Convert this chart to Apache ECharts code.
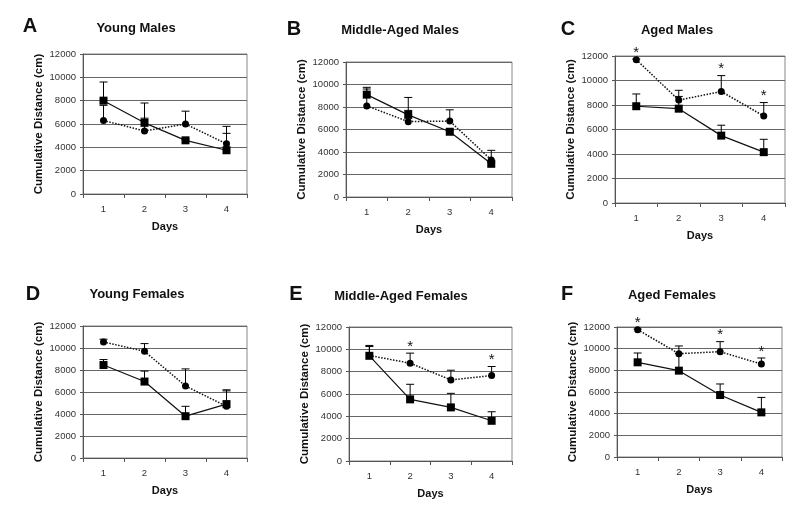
<!DOCTYPE html>
<html>
<head>
<meta charset="utf-8">
<title>Cumulative Distance by Day</title>
<script src="https://cdn.jsdelivr.net/npm/echarts@6/dist/echarts.min.js"></script>
<style>
  html, body { margin: 0; padding: 0; background: #fff; }
  #chart { width: 800px; height: 507px; }
</style>
</head>
<body>
<div id="chart"></div>
<script>
// data
var days = ['1', '2', '3', '4'];
var panelLetters = ['A', 'B', 'C', 'D', 'E', 'F'];
var panelTitles = ['Young Males', 'Middle-Aged Males', 'Aged Males',
                   'Young Females', 'Middle-Aged Females', 'Aged Females'];
var yTicks = [0, 2000, 4000, 6000, 8000, 10000, 12000];

// solid line, square markers
var squareMean = [
  [8000, 6100, 4600, 3750],
  [9100, 7300, 5800, 2950],
  [7900, 7700, 5500, 4150],
  [8450, 6950, 3800, 4900],
  [9420, 5520, 4800, 3600],
  [8740, 7970, 5720, 4120]
];
var squareErrTop = [
  [9600, 7800, 4700, 5200],
  [9750, 7700, 5900, 3100],
  [8900, 8700, 6350, 5200],
  [8950, 7900, 4700, 6100],
  [10250, 6870, 6060, 4410],
  [9600, 9550, 6740, 5500]
];
// dotted line, circle markers
var circleMean = [
  [6300, 5400, 6000, 4300],
  [8100, 6700, 6750, 3300],
  [11700, 8400, 9100, 7100],
  [10550, 9700, 6550, 4700],
  [9450, 8760, 7260, 7650],
  [11750, 9540, 9720, 8580]
];
var circleErrTop = [
  [7600, 6500, 7100, 5800],
  [9600, 8850, 7750, 4150],
  [11750, 9200, 10400, 8200],
  [10800, 10400, 8100, 6200],
  [10350, 9660, 8130, 8460],
  [11800, 10250, 10650, 9140]
];
// days (index) marked with * above the circle series
var starDays = [[], [], [0, 2, 3], [], [1, 3], [0, 2, 3]];

// plot boxes in px
var boxes = [
  {left: 83, top: 54, width: 164, height: 140},
  {left: 346, top: 62, width: 166, height: 135},
  {left: 615, top: 56, width: 170, height: 147},
  {left: 83, top: 326, width: 164, height: 132},
  {left: 349, top: 327, width: 163, height: 134},
  {left: 617, top: 327, width: 165, height: 130}
];
var titlePos = [[136, 28], [400, 30], [677, 30], [137, 294], [401, 296], [672, 295]];
var letterPos = [[30, 26], [294, 29], [568, 29], [33, 294], [296, 294], [567, 294]];

var FONT = 'Liberation Sans, Arial, sans-serif';

function errRender(params, api) {
  var x = api.value(0);
  var p0 = api.coord([x, api.value(1)]);
  var p1 = api.coord([x, api.value(2)]);
  var st = {stroke: '#000', lineWidth: 1};
  return {
    type: 'group',
    children: [
      {type: 'line', shape: {x1: p0[0], y1: p0[1], x2: p1[0], y2: p1[1]}, style: st},
      {type: 'line', shape: {x1: p1[0] - 4, y1: p1[1], x2: p1[0] + 4, y2: p1[1]}, style: st}
    ]
  };
}

function starRender(params, api) {
  var p = api.coord([api.value(0), api.value(1)]);
  return {
    type: 'text',
    x: p[0], y: p[1] + 1,
    style: {text: '*', fill: '#111', font: '15px ' + FONT, align: 'center', verticalAlign: 'bottom'}
  };
}

var grids = [], xAxes = [], yAxes = [], series = [], graphics = [];

boxes.forEach(function (b, i) {
  grids.push({left: b.left, top: b.top, width: b.width, height: b.height,
              show: true, borderColor: '#888', borderWidth: 1, backgroundColor: 'transparent'});
  xAxes.push({
    type: 'category', gridIndex: i, data: days, boundaryGap: true,
    name: 'Days', nameLocation: 'middle', nameGap: 27,
    nameTextStyle: {fontFamily: FONT, fontWeight: 'bold', fontSize: 11, color: '#111'},
    axisLine: {lineStyle: {color: '#555', width: 1}},
    axisTick: {show: true, length: 4, lineStyle: {color: '#555'}},
    axisLabel: {fontFamily: FONT, fontSize: 9.5, color: '#333', margin: 10},
    splitLine: {show: false}
  });
  yAxes.push({
    type: 'value', gridIndex: i, min: yTicks[0], max: yTicks[yTicks.length - 1], interval: 2000,
    name: 'Cumulative Distance (cm)', nameLocation: 'middle', nameGap: 38, nameRotate: 90,
    nameTextStyle: {fontFamily: FONT, fontWeight: 'bold', fontSize: 11.5, color: '#111'},
    axisLine: {show: true, lineStyle: {color: '#555', width: 1}},
    axisTick: {show: true, length: 3, lineStyle: {color: '#555'}},
    axisLabel: {fontFamily: FONT, fontSize: 9.5, color: '#333', margin: 7,
                formatter: function (v) { return String(v); }},
    splitLine: {show: true, lineStyle: {color: '#666', width: 1}}
  });

  series.push({
    type: 'custom', xAxisIndex: i, yAxisIndex: i, z: 2, renderItem: errRender,
    data: circleMean[i].map(function (v, d) { return [d, v, circleErrTop[i][d]]; })
  });
  series.push({
    type: 'custom', xAxisIndex: i, yAxisIndex: i, z: 2, renderItem: errRender,
    data: squareMean[i].map(function (v, d) { return [d, v, squareErrTop[i][d]]; })
  });
  series.push({
    type: 'line', xAxisIndex: i, yAxisIndex: i, z: 3, data: circleMean[i],
    symbol: 'circle', symbolSize: 7, itemStyle: {color: '#000'},
    lineStyle: {color: '#111', width: 1.5, type: 'dotted'}, animation: false
  });
  series.push({
    type: 'line', xAxisIndex: i, yAxisIndex: i, z: 4, data: squareMean[i],
    symbol: 'rect', symbolSize: 8, itemStyle: {color: '#000'},
    lineStyle: {color: '#111', width: 1.2}, animation: false
  });
  if (starDays[i].length) {
    series.push({
      type: 'custom', xAxisIndex: i, yAxisIndex: i, z: 5, renderItem: starRender,
      data: starDays[i].map(function (d) { return [d, Math.max(circleErrTop[i][d], circleMean[i][d])]; })
    });
  }

  graphics.push({
    type: 'text', x: titlePos[i][0], y: titlePos[i][1],
    style: {text: panelTitles[i], font: 'bold 13px ' + FONT, fill: '#111', align: 'center', verticalAlign: 'middle'}
  });
  graphics.push({
    type: 'text', x: letterPos[i][0], y: letterPos[i][1],
    style: {text: panelLetters[i], font: 'bold 20px ' + FONT, fill: '#111', align: 'center', verticalAlign: 'middle'}
  });
});

var chart = echarts.init(document.getElementById('chart'), null, {renderer: 'canvas'});
chart.setOption({
  animation: false,
  backgroundColor: '#fff',
  grid: grids,
  xAxis: xAxes,
  yAxis: yAxes,
  series: series,
  graphic: graphics
});
</script>
</body>
</html>
